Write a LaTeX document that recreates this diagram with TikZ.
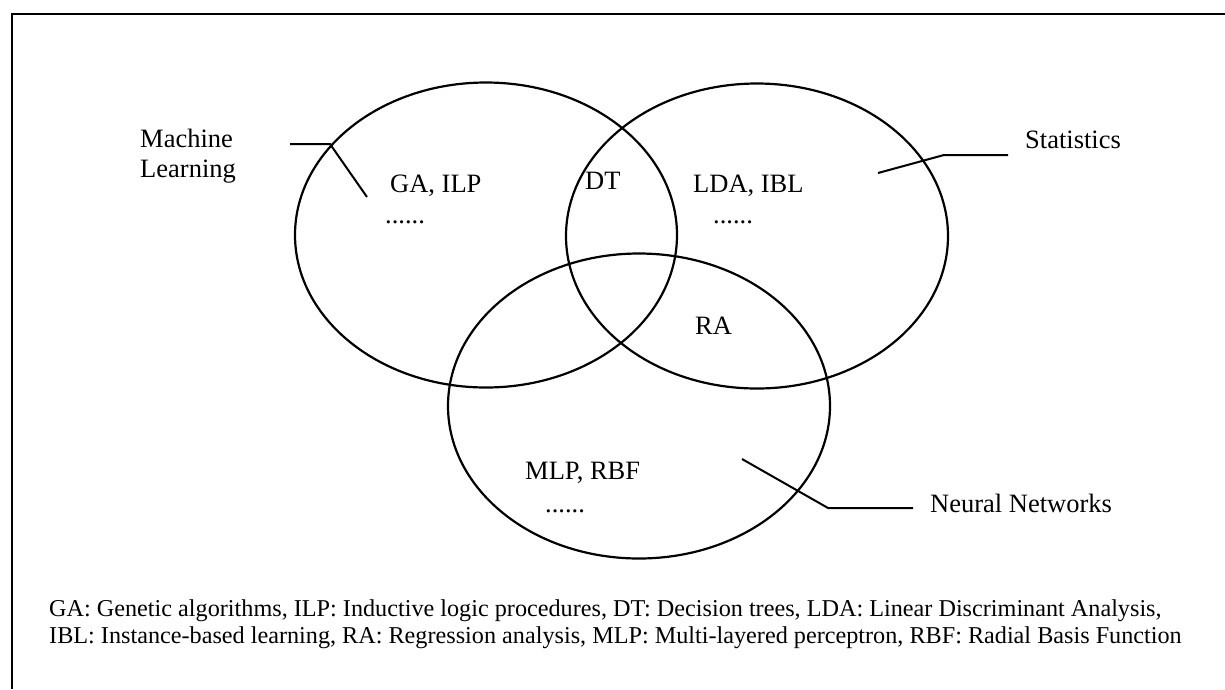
\documentclass[tikz,border=0pt]{standalone}
\usepackage{fontspec}
\setmainfont{Liberation Serif}
\usetikzlibrary{shapes.geometric}
\begin{document}
\begin{tikzpicture}[x=1pt,y=-1pt,
  lbl/.style={inner sep=0pt, anchor=base west, font=\fontsize{26.5}{30}\selectfont},
  legend/.style={inner sep=0pt, anchor=base west, font=\fontsize{24.2}{28}\selectfont},
  setshape/.style={ellipse, draw, line width=2.2pt, inner sep=0pt, outer sep=0pt,
    minimum width=382pt, minimum height=305pt},
  callout/.style={line width=2pt, line join=miter}]
\useasboundingbox (0,0) rectangle (1225,689);
% frame
\draw[line width=2.4pt] (12,689) -- (12,14) -- (1225,14);
% sets
\node[setshape] (ml) at (486,235) {};
\node[setshape] (st) at (757,236) {};
\node[setshape] (nn) at (639,406) {};
% labels
\node[lbl, align=left] (mlname) at (140,177) {Machine\\Learning};
\node[lbl] (stname) at (1025,148) {Statistics};
\node[lbl] (nnname) at (930,512) {Neural Networks};
% contents
\node[lbl] (ga) at (390,192) {GA, ILP};
\node[lbl] (mldots) at (385,223) {......};
\node[lbl] (dt) at (585,189) {DT};
\node[lbl] (lda) at (693,192) {LDA, IBL};
\node[lbl] (stdots) at (713,223) {......};
\node[lbl] (ra) at (695,334) {RA};
\node[lbl] (mlp) at (525,479) {MLP, RBF};
\node[lbl] (nndots) at (545,512) {......};
% callouts
\coordinate (mlA) at (290,144);
\coordinate (mlB) at (330,144);
\coordinate (mlC) at (367,197);
\draw[callout] (mlA) -- (mlB) -- (mlC);
\coordinate (stA) at (878,173);
\coordinate (stB) at (944,155);
\coordinate (stC) at (1008,155);
\draw[callout] (stA) -- (stB) -- (stC);
\coordinate (nnA) at (742,459);
\coordinate (nnB) at (828,508);
\coordinate (nnC) at (913,508);
\draw[callout] (nnA) -- (nnB) -- (nnC);
% legend
\node[legend] (leg1) at (49,616) {GA: Genetic algorithms, ILP: Inductive logic procedures, DT: Decision trees, LDA: Linear Discriminant Analysis,};
\node[legend] (leg2) at (49,643) {IBL: Instance-based learning, RA: Regression analysis, MLP: Multi-layered perceptron, RBF: Radial Basis Function};
\end{tikzpicture}
\end{document}
